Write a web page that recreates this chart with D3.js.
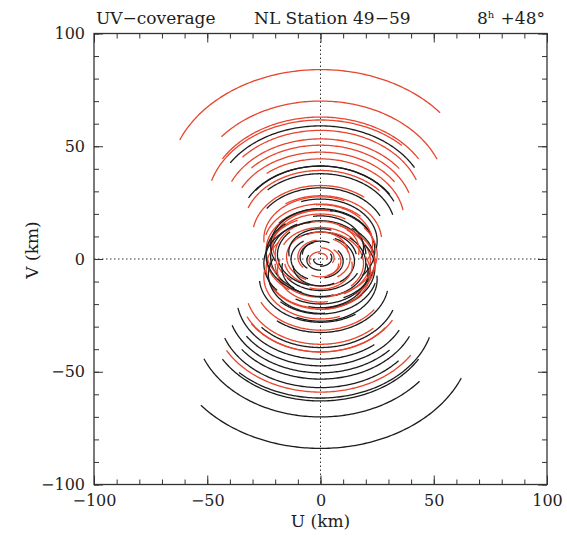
<!DOCTYPE html>
<meta charset="utf-8">
<style>
 body { margin: 0; background: #fff; }
 text { font-family: "DejaVu Serif", serif; fill: #1e1e1e; }
 .axis text { font-size: 16px; font-family: "DejaVu Serif", serif; }
 .axis line { stroke: #333; stroke-width: 1; }
 .frame { fill: none; stroke: #333; stroke-width: 1.3; }
 .title { font-size: 17px; }
 .axis-label { font-size: 17px; }
 .zero { stroke: #333; stroke-width: 1; stroke-dasharray: 1.5,2.5; }
 .track { fill: none; stroke-width: 1.3; }
</style>
<body>
<svg width="567" height="536"></svg>
<script src="https://d3js.org/d3.v7.min.js"></script>
<script>

 // one entry per baseline: red = (u,v) track, black = conjugate (-u,-v)
 // signed projected length (km), centre offset in v (km), hour angle phase (deg)
 var uvLength = [ 67, 55.5, 50, 50, 45, 43, 41, 39, 37, 34, 30, 27, 25, 22, 18,
                  -47, -36, -35.5, -33, -29, -24, -20, -16,
                  24, 22, 20, 19, 15, 13, 10, 9, 6, 5, 3,
                  21, -19, 17, -14, 12, -8,
                  24, -24, 25, -22, 23, -24, 25, -25 ];
 var vOffset  = [ 34.2, 28.8, 25.8, 24.5, 23.6, 21.3, 20, 18.4, 16.9, 14, 10.3, 8, 5.8, 3.6, 0.6,
                  -24.1, -14.5, -14.8, -13.3, -10, -4.4, -2.1, -0.1,
                  1, -1, 2, -2, 1, 0, 1, -1, 0.5, -0.5, 0.3,
                  6, -5, 4, -3, 3, -2,
                  4, -4, 2, -6, 7, -2, 9, -8 ];
 var phase    = [ -8, 8, 0, -14, 10, -6, 12, -3, 20, -10, -20, 25, -15, -30, -5,
                  2, -2, 6, 15, 5, 10, 30, 20,
                  -85, 92, -80, 75, -95, 85, -70, 100, 60, -60, 40,
                  -45, 50, 40, -40, 30, -30,
                  -65, 70, 110, -55, 55, -100, -35, 40 ];

 var declination = 48;   // degrees
 var hours = 8;          // track length
 var majorTicks = [-100, -50, 0, 50, 100];
 var minorTicks = d3.range(-100, 101, 10);

 var svg = d3.select("svg");

 var x = d3.scaleLinear().domain([-100, 100]).range([94, 547]);
 var y = d3.scaleLinear().domain([-100, 100]).range([484.5, 33.5]);

 var fmt = function(d) { return d < 0 ? "\u2212" + Math.abs(d) : "" + d; };

 // build the tracks
 var sinDec = Math.sin(declination * Math.PI / 180);
 var halfSpan = hours / 2 * 15;
 var tracks = [];
 uvLength.forEach(function(a, i) {
     var pts = d3.range(phase[i] - halfSpan, phase[i] + halfSpan + 0.5, 1).map(function(t) {
         var r = t * Math.PI / 180;
         return [a * Math.sin(r), vOffset[i] + a * sinDec * Math.cos(r)];
     });
     tracks.push({color: "#e8452f", pts: pts});
     tracks.push({color: "#1c1c1c", pts: pts.map(function(p) { return [-p[0], -p[1]]; })});
 });

 var line = d3.line()
     .x(function(d) { return x(d[0]); })
     .y(function(d) { return y(d[1]); });

 // zero lines
 svg.append("line").attr("class", "zero")
    .attr("x1", x(0)).attr("x2", x(0)).attr("y1", y(100)).attr("y2", y(-100));
 svg.append("line").attr("class", "zero")
    .attr("x1", x(-100)).attr("x2", x(100)).attr("y1", y(0)).attr("y2", y(0));

 svg.append("g")
    .selectAll("path")
    .data(tracks)
    .enter().append("path")
    .attr("class", "track")
    .attr("d", function(d) { return line(d.pts); })
    .style("stroke", function(d) { return d.color; });

 // axes, ticks pointing inward on all four sides
 function addAxis(axis, tx, ty, labels) {
     var g = svg.append("g").attr("class", "axis")
                .attr("transform", "translate(" + tx + "," + ty + ")");
     g.call(axis.tickValues(minorTicks).tickSize(-5).tickFormat(""));
     var g2 = svg.append("g").attr("class", "axis")
                 .attr("transform", "translate(" + tx + "," + ty + ")");
     g2.call(axis.tickValues(majorTicks).tickSize(-9).tickFormat(labels ? fmt : ""));
     g.select(".domain").remove();
     g2.select(".domain").remove();
     return g2;
 }
 addAxis(d3.axisBottom(x).tickPadding(10), 0, y(-100), true);
 addAxis(d3.axisTop(x), 0, y(100), false);
 addAxis(d3.axisLeft(y).tickPadding(9), x(-100), 0, true);
 addAxis(d3.axisRight(y), x(100), 0, false);

 svg.append("rect").attr("class", "frame")
    .attr("x", x(-100)).attr("y", y(100))
    .attr("width", x(100) - x(-100)).attr("height", y(-100) - y(100));

 // titles
 svg.append("text").attr("class", "title").attr("x", 96).attr("y", 24).text("UV\u2212coverage");
 svg.append("text").attr("class", "title").attr("x", 254).attr("y", 24).text("NL Station 49\u221259");
 var hr = svg.append("text").attr("class", "title").attr("x", 477).attr("y", 24);
 hr.append("tspan").text("8");
 hr.append("tspan").attr("dy", -6).style("font-size", "10px").text("h");
 svg.append("text").attr("class", "title").attr("x", 545).attr("y", 24)
    .attr("text-anchor", "end").text("+48\u00b0");

 svg.append("text").attr("class", "axis-label")
    .attr("x", x(0)).attr("y", 527).attr("text-anchor", "middle").text("U (km)");
 svg.append("text").attr("class", "axis-label")
    .attr("transform", "translate(38," + y(4) + ") rotate(-90)")
    .attr("text-anchor", "middle").text("V (km)");

</script>
</body>
